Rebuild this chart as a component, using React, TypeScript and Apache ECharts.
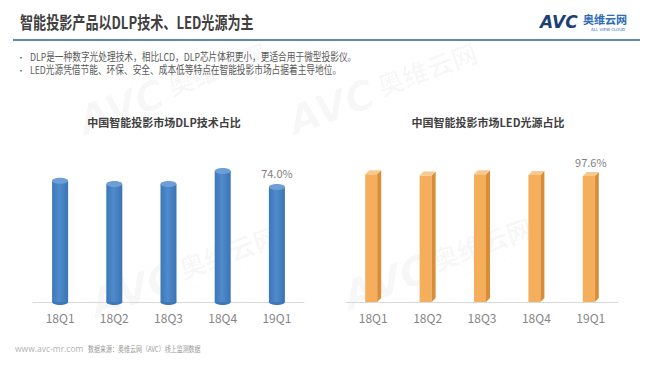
import React, { useEffect, useRef } from "react";
import * as echarts from "echarts";

const quarters = ["18Q1", "18Q2", "18Q3", "18Q4", "19Q1"];
const dlpShare = [78.0, 76.0, 76.0, 84.3, 74.0];
const ledShare = [99.0, 98.0, 99.0, 98.4, 97.6];
const labelIndex = 4;

const pageTitle = "智能投影产品以DLP技术、LED光源为主";
const bullets = [
  "DLP是一种数字光处理技术，相比LCD，DLP芯片体积更小，更适合用于微型投影仪。",
  "LED光源凭借节能、环保、安全、成本低等特点在智能投影市场占据着主导地位。",
];
const leftTitle = "中国智能投影市场DLP技术占比";
const rightTitle = "中国智能投影市场LED光源占比";
const footerUrl = "www.avc-mr.com";
const footerSource = "数据来源：奥维云网（AVC）线上监测数据";

const CJK = "'Noto Sans CJK SC', 'Noto Sans', sans-serif";

function valueLabel(x: number, y: number, v: number) {
  return {
    type: "text",
    style: {
      text: v.toFixed(1) + "%",
      x,
      y,
      align: "center",
      verticalAlign: "middle",
      fill: "#7f7f7f",
      fontSize: 11,
      fontFamily: CJK,
    },
  };
}

function cylinder(params: any, api: any) {
  const idx = api.value(0);
  const v = api.value(1);
  const top = api.coord([idx, v]);
  const base = api.coord([idx, 0]);
  const w = 16;
  const rx = w / 2;
  const ry = 3;
  const x0 = top[0] - rx;
  const children: any[] = [
    {
      type: "ellipse",
      shape: { cx: top[0], cy: base[1], rx, ry },
      style: { fill: "#3f78b8" },
    },
    {
      type: "rect",
      shape: { x: x0, y: top[1], width: w, height: base[1] - top[1] },
      style: {
        fill: new echarts.graphic.LinearGradient(0, 0, 1, 0, [
          { offset: 0, color: "#3c77b9" },
          { offset: 0.45, color: "#4f8acb" },
          { offset: 1, color: "#3a74b4" },
        ]),
      },
    },
    {
      type: "ellipse",
      shape: { cx: top[0], cy: top[1], rx, ry },
      style: { fill: "#6c9fd6" },
    },
  ];
  if (params.dataIndex === labelIndex) {
    children.push(valueLabel(top[0], top[1] - 14, v));
  }
  return { type: "group", children };
}

function box3d(params: any, api: any) {
  const idx = api.value(0);
  const v = api.value(1);
  const top = api.coord([idx, v]);
  const base = api.coord([idx, 0]);
  const front = 12;
  const d = 4;
  const x0 = top[0] - (front + d) / 2;
  const x1 = x0 + front;
  const children: any[] = [
    {
      type: "rect",
      shape: { x: x0, y: top[1], width: front, height: base[1] - top[1] },
      style: { fill: "#f5ae5b" },
    },
    {
      type: "polygon",
      shape: {
        points: [
          [x1, top[1]],
          [x1 + d, top[1] - d],
          [x1 + d, base[1] - d],
          [x1, base[1]],
        ],
      },
      style: { fill: "#d98d38" },
    },
    {
      type: "polygon",
      shape: {
        points: [
          [x0, top[1]],
          [x0 + d, top[1] - d],
          [x1 + d, top[1] - d],
          [x1, top[1]],
        ],
      },
      style: { fill: "#f8c98e" },
    },
  ];
  if (params.dataIndex === labelIndex) {
    children.push(valueLabel(top[0], top[1] - 14, v));
  }
  return { type: "group", children };
}

function watermark(x: number, y: number, op: number) {
  const fill = "rgba(0,0,0," + op + ")";
  return {
    type: "group",
    x,
    y,
    z: 0,
    rotation: (20 * Math.PI) / 180,
    silent: true,
    children: [
      {
        type: "text",
        style: {
          text: "AVC",
          x: 0,
          y: 0,
          verticalAlign: "middle",
          fontSize: 40,
          fontWeight: "bold",
          fontStyle: "italic",
          fontFamily: "'DejaVu Sans', sans-serif",
          fill,
        },
      },
      {
        type: "text",
        style: {
          text: "奥维云网",
          x: 95,
          y: -4,
          verticalAlign: "middle",
          fontSize: 26,
          fontWeight: "bold",
          fontFamily: CJK,
          fill,
        },
      },
      {
        type: "text",
        style: {
          text: "ALL VIEW CLOUD",
          x: 100,
          y: 18,
          verticalAlign: "middle",
          fontSize: 8,
          fontFamily: "'DejaVu Sans', sans-serif",
          fill,
        },
      },
    ],
  };
}

const axisCommon = {
  type: "category" as const,
  data: quarters,
  axisTick: { show: false },
  axisLine: { lineStyle: { color: "#d9d9d9", width: 1 } },
  axisLabel: { color: "#858585", fontSize: 12, margin: 9, fontFamily: CJK },
};

export default function App() {
  const ref = useRef<HTMLDivElement>(null);
  useEffect(() => {
    if (!ref.current) return;
    const chart = echarts.init(ref.current, undefined, { renderer: "svg" });
    chart.setOption({
      animation: false,
      backgroundColor: "#ffffff",
      grid: [
        { left: 33, width: 271, top: 146.6, bottom: 63 },
        { left: 346, width: 272, top: 173, bottom: 63 },
      ],
      xAxis: [
        { ...axisCommon, gridIndex: 0 },
        { ...axisCommon, gridIndex: 1 },
      ],
      yAxis: [
        { type: "value", gridIndex: 0, min: 0, max: 100, show: false },
        { type: "value", gridIndex: 1, min: 0, max: 100, show: false },
      ],
      series: [
        {
          type: "custom",
          xAxisIndex: 0,
          yAxisIndex: 0,
          renderItem: cylinder,
          encode: { x: 0, y: 1 },
          data: dlpShare.map((v, i) => [i, v]),
          z: 3,
        },
        {
          type: "custom",
          xAxisIndex: 1,
          yAxisIndex: 1,
          renderItem: box3d,
          encode: { x: 0, y: 1 },
          data: ledShare.map((v, i) => [i, v]),
          z: 3,
        },
      ],
      graphic: [
        watermark(80, 122, 0.03),
        watermark(290, 122, 0.03),
        watermark(92, 305, 0.04),
        watermark(345, 297, 0.04),
        {
          type: "text",
          x: 20,
          y: 13,
          scaleX: 0.77,
          style: {
            text: pageTitle,
            fontSize: 17,
            fontWeight: "bold",
            fontFamily: CJK,
            fill: "#404040",
          },
        },
        {
          type: "line",
          shape: { x1: 13, y1: 40, x2: 640, y2: 40 },
          style: { stroke: "#2f5f8f", lineWidth: 1.5 },
        },
        {
          type: "text",
          x: 540,
          y: 13,
          style: {
            text: "AVC",
            fontSize: 17,
            fontWeight: "bold",
            fontStyle: "italic",
            fontFamily: "'DejaVu Sans', sans-serif",
            fill: "#1d3f78",
          },
        },
        {
          type: "text",
          x: 583,
          y: 13,
          style: {
            text: "奥维云网",
            fontSize: 11,
            fontWeight: "bold",
            fontFamily: CJK,
            fill: "#2d6bb5",
          },
        },
        {
          type: "text",
          x: 591,
          y: 27,
          style: {
            text: "ALL VIEW CLOUD",
            fontSize: 4,
            fontFamily: "'DejaVu Sans', sans-serif",
            fill: "#2d6bb5",
          },
        },
        ...bullets.flatMap((b, i) => [
          {
            type: "text",
            x: 17,
            y: 57 + i * 13,
            style: {
              text: "•",
              fontSize: 8,
              verticalAlign: "middle",
              fill: "#595959",
              fontFamily: CJK,
            },
          },
          {
            type: "text",
            x: 30,
            y: 57 + i * 13,
            scaleX: 0.79,
            style: {
              text: b,
              fontSize: 11,
              verticalAlign: "middle",
              fill: "#595959",
              fontFamily: CJK,
            },
          },
        ]),
        {
          type: "text",
          x: 164,
          y: 122,
          style: {
            text: leftTitle,
            align: "center",
            verticalAlign: "middle",
            fontSize: 11,
            fontWeight: "bold",
            fontFamily: CJK,
            fill: "#404040",
          },
        },
        {
          type: "text",
          x: 488,
          y: 122,
          style: {
            text: rightTitle,
            align: "center",
            verticalAlign: "middle",
            fontSize: 11,
            fontWeight: "bold",
            fontFamily: CJK,
            fill: "#404040",
          },
        },
        {
          type: "text",
          x: 15,
          y: 344,
          style: {
            text: footerUrl,
            fontSize: 8.5,
            fontFamily: "'Open Sans', sans-serif",
            fill: "#b3b3b3",
          },
        },
        {
          type: "text",
          x: 88,
          y: 345,
          scaleX: 0.8,
          style: {
            text: footerSource,
            fontSize: 7.5,
            fontFamily: CJK,
            fill: "#999999",
          },
        },
      ],
    });
    return () => chart.dispose();
  }, []);
  return (
    <div
      ref={ref}
      style={{ position: "absolute", left: 0, top: 0, width: 650, height: 365 }}
    />
  );
}
